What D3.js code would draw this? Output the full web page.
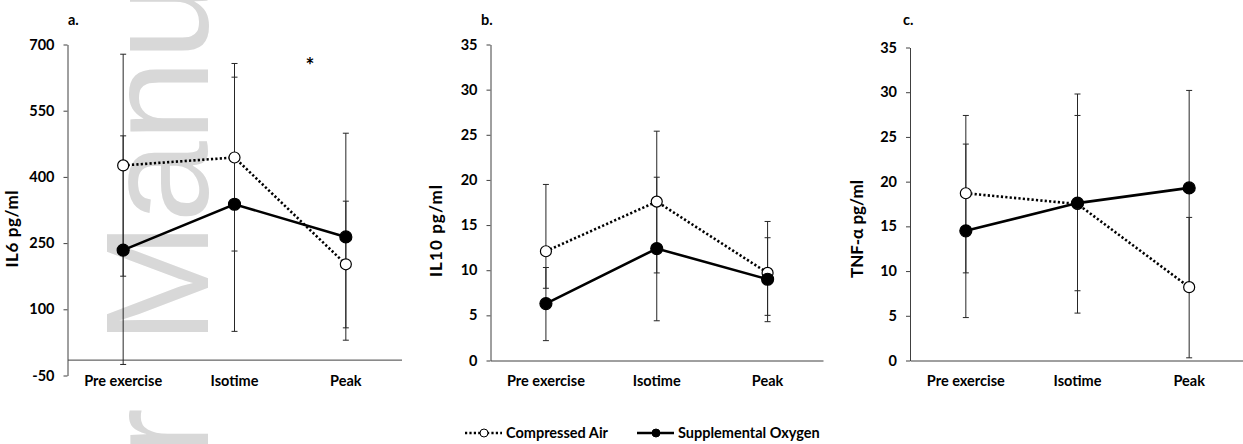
<!DOCTYPE html>
<html>
<head>
<meta charset="utf-8">
<script src="https://cdn.jsdelivr.net/npm/d3@7"></script>
<style>
  body { margin: 0; background: #fff; }
  svg { display: block; }
  .lbl { font-family: Lato, "Open Sans", sans-serif; font-weight: 700; font-size: 14.5px; fill: #000; }
  .ttl { font-family: Lato, "Open Sans", sans-serif; font-weight: 700; font-size: 17px; fill: #000; }
</style>
</head>
<body>
<svg id="chart" width="1243" height="444"></svg>
<script>
// categories shared by all three panels
const categories = ["Pre exercise", "Isotime", "Peak"];

// a. IL6
const il6Ticks = [-50, 100, 250, 400, 550, 700];
const il6Air = [426, 444, 202];
const il6AirHi = [678, 657, 345];
const il6AirLo = [175, 232, 58];
const il6Oxy = [234, 338, 264];
const il6OxyHi = [493, 626, 499];
const il6OxyLo = [-25, 50, 30];

// b. IL10
const il10Ticks = [0, 5, 10, 15, 20, 25, 30, 35];
const il10Air = [12.1, 17.6, 9.7];
const il10AirHi = [19.5, 25.4, 15.4];
const il10AirLo = [8.0, 9.7, 5.0];
const il10Oxy = [6.3, 12.4, 9.0];
const il10OxyHi = [10.3, 20.3, 13.6];
const il10OxyLo = [2.2, 4.4, 4.3];

// c. TNF-a
const tnfTicks = [0, 5, 10, 15, 20, 25, 30, 35];
const tnfAir = [18.7, 17.5, 8.2];
const tnfAirHi = [27.4, 27.4, 16.0];
const tnfAirLo = [9.8, 7.8, 0.3];
const tnfOxy = [14.5, 17.6, 19.3];
const tnfOxyHi = [24.2, 29.8, 30.2];
const tnfOxyLo = [4.8, 5.3, 8.4];

const seriesNames = ["Compressed Air", "Supplemental Oxygen"];

const svg = d3.select("#chart");
const axisColor = "#404040";

// watermark behind everything
const wm = svg.append("g").attr("fill", "#d8d8d8")
    .style("font-family", "'Liberation Sans', Arial, sans-serif")
    .style("font-size", "146px");
wm.append("text")
    .attr("transform", "translate(208,344) rotate(-90)")
    .text("Manuscript");
wm.append("text")
    .attr("transform", "translate(208,408) rotate(-90)")
    .attr("text-anchor", "end")
    .text("Author");

function drawPanel(p) {
    const g = svg.append("g");

    const x = d3.scaleBand().domain(categories).range([p.x0, p.x1]);
    const y = d3.scaleLinear().domain([p.ticks[0], p.ticks[p.ticks.length - 1]])
        .range([p.yBot, p.yTop]);
    const cx = d => x(d) + x.bandwidth() / 2;

    // y axis
    const ya = g.append("g")
        .attr("transform", `translate(${p.x0},0)`)
        .call(d3.axisLeft(y).tickValues(p.ticks).tickFormat(d => String(d))
            .tickSize(4).tickSizeOuter(0).tickPadding(9));
    ya.attr("font-family", null).attr("font-size", null);
    ya.select(".domain").attr("stroke", axisColor);
    ya.selectAll(".tick line").attr("stroke", axisColor);
    ya.selectAll("text").attr("class", "lbl").attr("fill", null);

    // x axis crosses at p.cross
    const axY = y(p.cross);
    const xa = g.append("g")
        .attr("transform", `translate(0,${axY})`)
        .call(d3.axisBottom(x).tickSize(0).tickSizeOuter(0).tickPadding(p.labelY - axY));
    xa.attr("font-family", null).attr("font-size", null);
    xa.select(".domain").attr("stroke", axisColor);
    xa.selectAll("text").attr("class", "lbl").attr("fill", null);

    // axis title
    g.append("text")
        .attr("class", "ttl")
        .attr("transform", `translate(${p.x0 - p.titleOff},${p.titleY}) rotate(-90)`)
        .attr("text-anchor", "middle")
        .attr("textLength", p.titleLen)
        .attr("lengthAdjust", "spacing")
        .text(p.title);

    // panel letter
    g.append("text")
        .attr("class", "lbl")
        .attr("x", p.letterX).attr("y", 25)
        .text(p.letter);

    const series = [
        { vals: p.air, hi: p.airHi, lo: p.airLo, dash: "2.2,2.2", fill: "#fff", r: 5.5 },
        { vals: p.oxy, hi: p.oxyHi, lo: p.oxyLo, dash: null, fill: "#000", r: 6 }
    ];

    // error bars
    series.forEach(s => {
        const eb = g.append("g").attr("stroke", "#262626").attr("stroke-width", 1);
        categories.forEach((c, i) => {
            eb.append("line").attr("x1", cx(c)).attr("x2", cx(c))
                .attr("y1", y(s.hi[i])).attr("y2", y(s.lo[i]));
            [s.hi[i], s.lo[i]].forEach(v => {
                eb.append("line").attr("x1", cx(c) - 3).attr("x2", cx(c) + 3)
                    .attr("y1", y(v)).attr("y2", y(v));
            });
        });
    });

    const line = d3.line().x((d, i) => cx(categories[i])).y(d => y(d));

    series.forEach(s => {
        g.append("path")
            .datum(s.vals)
            .attr("fill", "none")
            .attr("stroke", "#000")
            .attr("stroke-width", 2.6)
            .attr("stroke-dasharray", s.dash)
            .attr("d", line);
        g.selectAll(null)
            .data(s.vals)
            .enter().append("circle")
            .attr("cx", (d, i) => cx(categories[i]))
            .attr("cy", d => y(d))
            .attr("r", s.r)
            .attr("fill", s.fill)
            .attr("stroke", "#000")
            .attr("stroke-width", 1.2);
    });

    if (p.star) {
        g.append("text")
            .attr("class", "lbl")
            .attr("x", p.star[0]).attr("y", p.star[1])
            .attr("text-anchor", "middle")
            .style("font-size", "21px")
            .text("*");
    }
}

drawPanel({
    letter: "a.", letterX: 68, title: "IL6 pg/ml", titleOff: 50, titleY: 229, titleLen: 77,
    x0: 67.5, x1: 401.5, yTop: 44.5, yBot: 375.5, cross: -14, labelY: 376,
    ticks: il6Ticks, air: il6Air, airHi: il6AirHi, airLo: il6AirLo,
    oxy: il6Oxy, oxyHi: il6OxyHi, oxyLo: il6OxyLo, star: [310, 73]
});

drawPanel({
    letter: "b.", letterX: 481, title: "IL10 pg/ml", titleOff: 49, titleY: 231, titleLen: 92,
    x0: 490.5, x1: 823, yTop: 44.5, yBot: 360.5, cross: 0, labelY: 376,
    ticks: il10Ticks, air: il10Air, airHi: il10AirHi, airLo: il10AirLo,
    oxy: il10Oxy, oxyHi: il10OxyHi, oxyLo: il10OxyLo
});

drawPanel({
    letter: "c.", letterX: 903, title: "TNF-α pg/ml", titleOff: 47, titleY: 229, titleLen: 98,
    x0: 910, x1: 1245, yTop: 47.5, yBot: 360.5, cross: 0, labelY: 376,
    ticks: tnfTicks, air: tnfAir, airHi: tnfAirHi, airLo: tnfAirLo,
    oxy: tnfOxy, oxyHi: tnfOxyHi, oxyLo: tnfOxyLo
});

// legend
const legend = svg.append("g");
const legendItems = [
    { name: seriesNames[0], x: 465, dash: "2.2,2.2", fill: "#fff" },
    { name: seriesNames[1], x: 637, dash: null, fill: "#000" }
];
legendItems.forEach(d => {
    const lg = legend.append("g").attr("transform", `translate(${d.x},433)`);
    lg.append("line").attr("x1", 0).attr("x2", 37)
        .attr("stroke", "#000").attr("stroke-width", 2.4).attr("stroke-dasharray", d.dash);
    lg.append("circle").attr("cx", 19).attr("r", 4)
        .attr("fill", d.fill).attr("stroke", "#000").attr("stroke-width", 1);
    lg.append("text").attr("class", "lbl").attr("x", 41).attr("dy", "0.35em").text(d.name);
});
</script>
</body>
</html>
